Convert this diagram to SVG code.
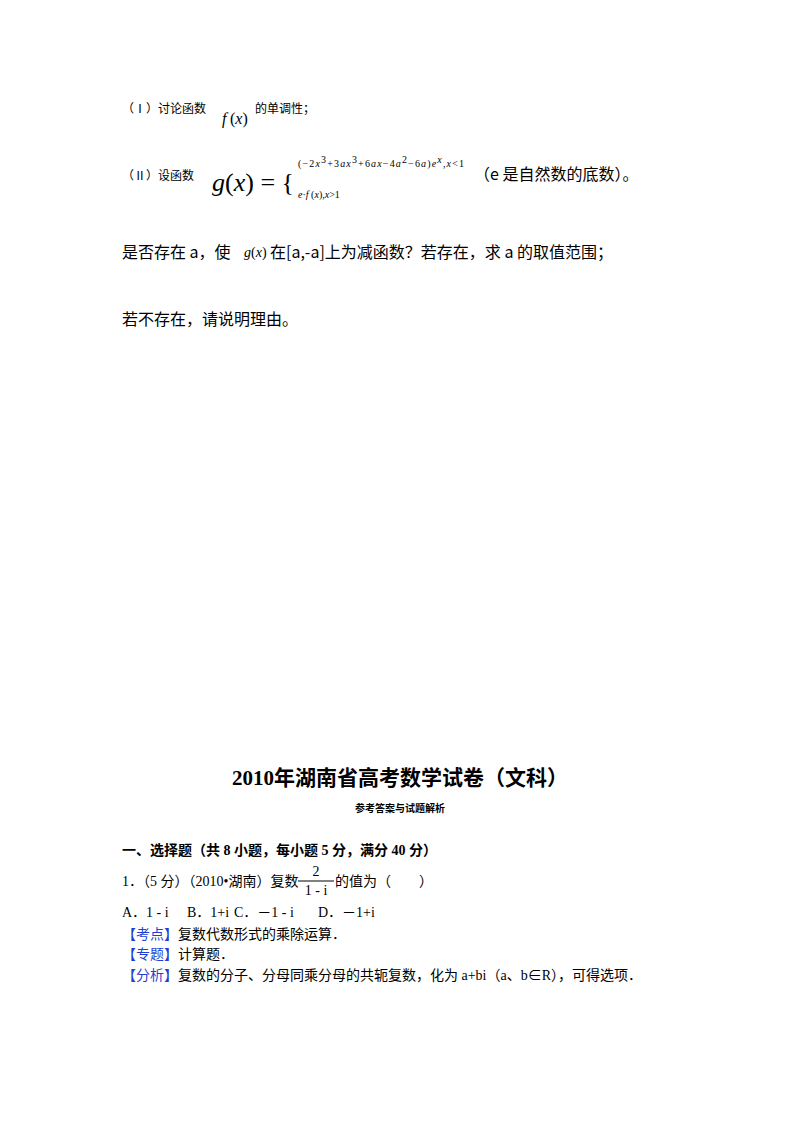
<svg xmlns="http://www.w3.org/2000/svg" width="800" height="1132" viewBox="0 0 800 1132">
<style>
.s{font-family:"Liberation Serif","Noto Sans CJK SC",serif;fill:#000}
.k{font-family:"Noto Sans CJK SC",sans-serif;fill:#000}
.m{font-family:"Liberation Serif",serif;font-style:italic;fill:#000}
.b{fill:#1f3fd0}
</style>
<rect width="800" height="1132" fill="#fff"/>
<text class="k" x="122" y="113" font-size="12">（Ⅰ）讨论函数</text>
<text class="m" x="222" y="124" font-size="16">f</text><text class="s" x="230" y="124" font-size="16">(<tspan font-style="italic">x</tspan>)</text>
<text class="k" x="255" y="113" font-size="12">的单调性；</text>
<text class="k" x="122" y="180" font-size="12">（Ⅱ）设函数</text>
<text class="s" x="212" y="191" font-size="26"><tspan font-style="italic">g</tspan>(<tspan font-style="italic">x</tspan>) = {</text>
<text class="s" x="298" y="167" font-size="10" textLength="166" lengthAdjust="spacing">(−2<tspan font-style="italic">x</tspan><tspan dy="-4">3</tspan><tspan dy="4">+3</tspan><tspan font-style="italic">ax</tspan><tspan dy="-4">3</tspan><tspan dy="4">+6</tspan><tspan font-style="italic">ax</tspan>−4<tspan font-style="italic">a</tspan><tspan dy="-4">2</tspan><tspan dy="4">−6</tspan><tspan font-style="italic">a</tspan>)<tspan font-style="italic">e</tspan><tspan dy="-4" font-style="italic">x</tspan><tspan dy="4">,</tspan><tspan font-style="italic">x</tspan>&lt;1</text>
<text class="s" x="298" y="198" font-size="10"><tspan font-style="italic">e</tspan>·<tspan font-style="italic">f</tspan> (<tspan font-style="italic">x</tspan>),<tspan font-style="italic">x</tspan>&gt;1</text>
<text class="k" x="474" y="180" font-size="16">（e 是自然数的底数）。</text>
<text class="k" x="122" y="258" font-size="16">是否存在 a，使</text>
<text class="s" x="244" y="257" font-size="14"><tspan font-style="italic">g</tspan>(<tspan font-style="italic">x</tspan>)</text>
<text class="k" x="270" y="258" font-size="16">在[a,-a]上为减函数？若存在，求 a 的取值范围；</text>
<text class="k" x="122" y="325" font-size="16">若不存在，请说明理由。</text>
<text class="s" x="400" y="785" font-size="21" font-weight="bold" text-anchor="middle">2010年湖南省高考数学试卷（文科）</text>
<text class="s" x="400" y="812" font-size="10" font-weight="bold" text-anchor="middle">参考答案与试题解析</text>
<text class="s" x="122" y="855" font-size="14" font-weight="bold">一、选择题（共 8 小题，每小题 5 分，满分 40 分）</text>
<text class="s" x="122" y="886" font-size="14">1．（5 分）（2010•湖南）复数</text>
<text class="s" x="316" y="876" font-size="14" text-anchor="middle" font-family="Liberation Sans">2</text>
<line x1="298" y1="881" x2="334" y2="881" stroke="#000" stroke-width="1"/>
<text class="s" x="316" y="895" font-size="14" text-anchor="middle" font-family="Liberation Sans">1 - i</text>
<text class="s" x="335" y="886" font-size="14">的值为（　　）</text>
<text class="s" x="122" y="917" font-size="14">A．1 - i</text>
<text class="s" x="187" y="917" font-size="14">B．1+i</text>
<text class="s" x="234" y="917" font-size="14">C．－1 - i</text>
<text class="s" x="318" y="917" font-size="14">D．－1+i</text>
<text class="s" x="122" y="939" font-size="14"><tspan class="b">【考点】</tspan>复数代数形式的乘除运算．</text>
<text class="s" x="122" y="959" font-size="14"><tspan class="b">【专题】</tspan>计算题．</text>
<text class="s" x="122" y="980" font-size="14"><tspan class="b">【分析】</tspan>复数的分子、分母同乘分母的共轭复数，化为 a+bi（a、b∈R），可得选项．</text>
</svg>
